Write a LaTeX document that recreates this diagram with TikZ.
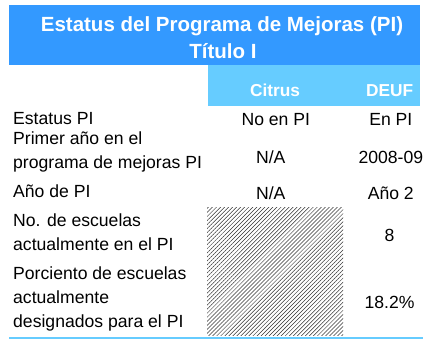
\documentclass[tikz,border=0pt]{standalone}
\usepackage{fontspec}
\setmainfont{Liberation Sans}
\usetikzlibrary{patterns.meta}
\definecolor{titleblue}{HTML}{3399FF}
\definecolor{headblue}{HTML}{66CCFF}

\begin{document}
\begin{tikzpicture}[x=1pt, y=-1pt,
  lbl/.style={anchor=base west, inner sep=0pt, align=left, font=\fontsize{17.6}{24}\selectfont},
  val/.style={anchor=base, inner sep=0pt, font=\fontsize{17.6}{24}\selectfont},
  ttl/.style={anchor=base, inner sep=0pt, text=white, font=\fontsize{20.5}{24}\selectfont\bfseries},
  hdr/.style={anchor=base, inner sep=0pt, text=white, font=\fontsize{17.3}{20}\selectfont\bfseries}]
  \useasboundingbox (0,0) rectangle (424,339);

  % bars and rule
  \fill [titleblue] (9,5) rectangle (420,65);
  \fill [headblue] (208,65) rectangle (420,106);
  \draw [headblue, line width=1.5pt] (9,338) -- (423,338);

  % shaded cells
  \fill [pattern={Lines[angle=45, distance=2.85pt, line width=0.5pt]}, pattern color=black!80]
    (207,208) rectangle (343,336);

  % title and column heads
  \node (t1) [ttl] at (222,31.7) {Estatus del Programa de Mejoras (PI)};
  \node (t2) [ttl] at (223,58.3) {Título I};
  \node (citrus) [hdr] at (275,96.7) {Citrus};
  \node (deuf) [hdr] at (389.7,96.7) {DEUF};

  % row labels (base = last line)
  \node (r1) [lbl] at (13,125) {Estatus PI};
  \node (r2) [lbl] at (13,169) {Primer año en el\\programa de mejoras PI};
  \node (r3) [lbl] at (13,198) {Año de PI};
  \node (r4) [lbl] at (13,251) {No. de escuelas\\actualmente en el PI};
  \node (r5) [lbl] at (13,328) {Porciento de escuelas\\actualmente\\designados para el PI};

  % values
  \node (c1) [val] at (275.8,126) {No en PI};
  \node (d1) [val] at (390.8,126) {En PI};
  \node (c2) [val] at (270.8,163.3) {N/A};
  \node (d2) [val] at (390.8,163.3) {2008-09};
  \node (c3) [val] at (270.8,199.3) {N/A};
  \node (d3) [val] at (390.8,199.3) {Año 2};
  \node (d4) [val] at (389.5,242) {8};
  \node (d5) [val] at (389.5,309) {18.2\%};
\end{tikzpicture}
\end{document}
